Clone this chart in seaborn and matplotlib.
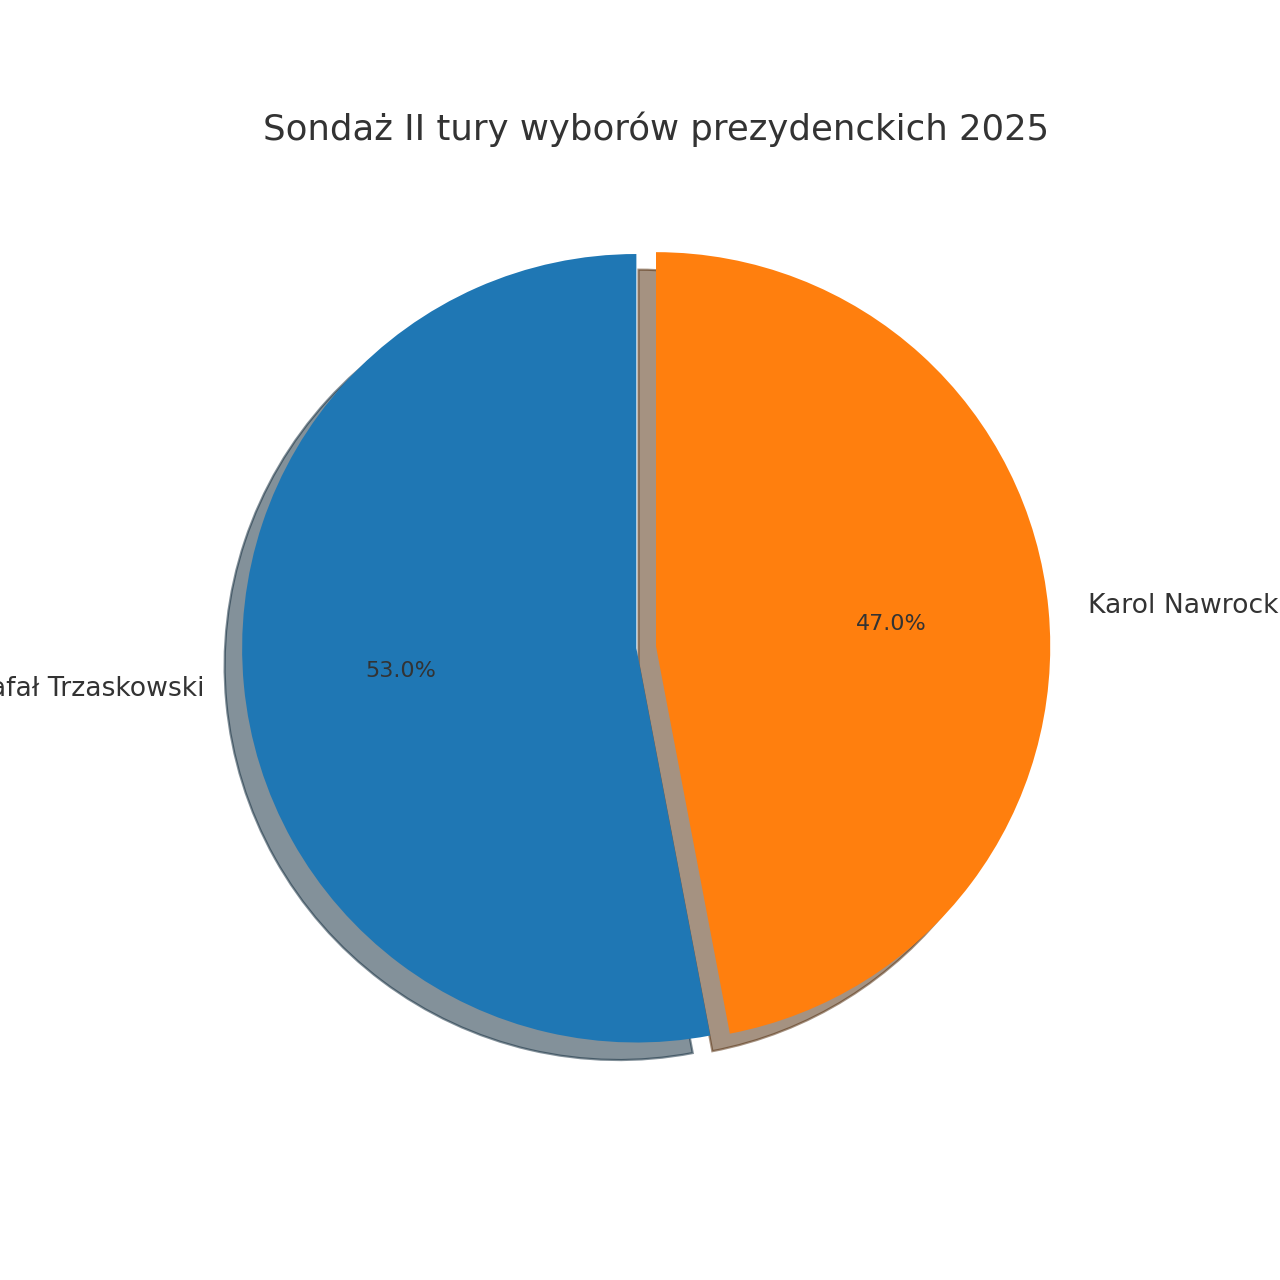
import seaborn as sns
from matplotlib import pyplot as plt

# data
candidates = ["Rafał Trzaskowski", "Karol Nawrocki"]
support = [53.0, 47.0]
explode_by = [0.05, 0.0]

sns.set_theme(style="white")
plt.rcParams['font.family'] = ['DejaVu Sans']
plt.rcParams['text.color'] = '#333333'

colors = sns.color_palette("tab10", 2)

fig, ax = plt.subplots(figsize=(8, 8), dpi=160)
ax.pie(
    support,
    labels=candidates,
    colors=colors,
    explode=explode_by,
    autopct="%1.1f%%",
    startangle=90,
    shadow=True,
    wedgeprops=dict(edgecolor="none", linewidth=1),
    textprops=dict(fontsize=12),
)
for t in ax.texts:
    if t.get_text().endswith("%"):
        t.set_fontsize(10)
ax.set_title("Sondaż II tury wyborów prezydenckich 2025", fontsize=16)

plt.savefig("out.png", dpi=160)
